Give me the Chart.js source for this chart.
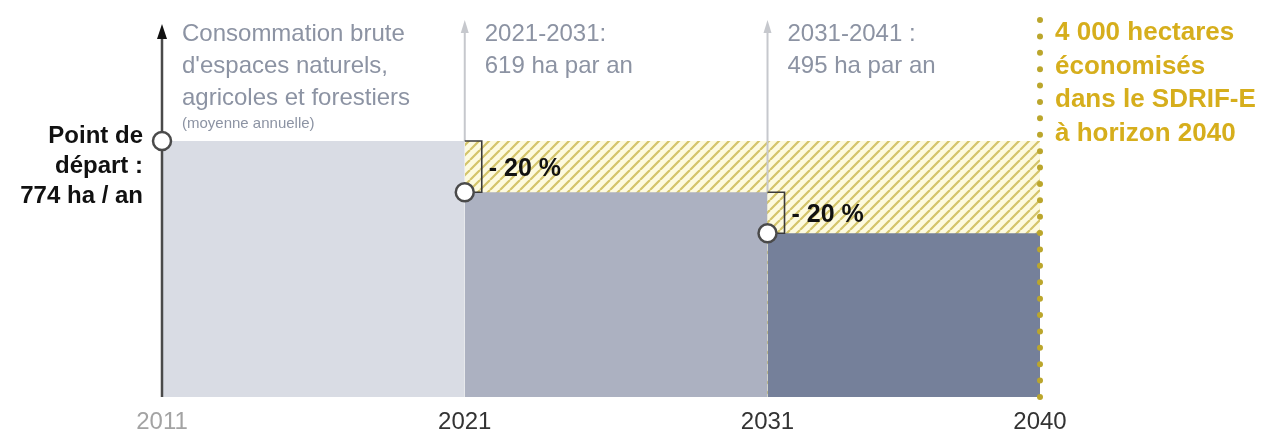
<!DOCTYPE html>
<html>
	<head>
		<meta charset="utf-8">
		<title>SDRIF-E consommation</title>
		<script src="https://cdn.jsdelivr.net/npm/chart.js"></script>
		<style>
			html, body {
				margin: 0;
				padding: 0;
				background: #fff;
			}

			#wrap {
				width: 1272px;
				height: 439px;
			}
		</style>
	</head>
	<body>
		<div id="wrap">
			<canvas id="chart" width="1272" height="439"></canvas>
		</div>
		<script>
			// années de la frise et consommation moyenne (ha / an) par période
			const years = [2011, 2021, 2031, 2040];
			const levels = [774, 619, 495];
			const reductions = ['- 20 %', '- 20 %'];

			// textes
			const startNote = ['Point de', 'départ :', '774 ha / an'];
			const periodNotes = [
				['Consommation brute', "d'espaces naturels,", 'agricoles et forestiers'],
				['2021-2031:', '619 ha par an'],
				['2031-2041 :', '495 ha par an']
			];
			const subNote = '(moyenne annuelle)';
			const savedNote = ['4 000 hectares', 'économisés', 'dans le SDRIF-E', 'à horizon 2040'];

			const barColors = ['#d9dce4', '#acb1c1', '#75809a'];
			const FONT = "'Liberation Sans', Arial, sans-serif";

			// motif hachuré jaune
			function makeHatch() {
				const s = 10;
				const c = document.createElement('canvas');
				c.width = s;
				c.height = s;
				const g = c.getContext('2d');
				g.fillStyle = '#fdfadf';
				g.fillRect(0, 0, s, s);
				g.strokeStyle = '#d4c46a';
				g.lineWidth = 2.2;
				g.beginPath();
				for (const k of [-s, 0, s]) {
					g.moveTo(k, s);
					g.lineTo(k + s, 0);
				}
				g.stroke();
				return g.createPattern(c, 'repeat');
			}

			function arrow(ctx, x, yTop, yBottom, lineColor, headColor, lw, hw, hh) {
				ctx.strokeStyle = lineColor;
				ctx.lineWidth = lw;
				ctx.beginPath();
				ctx.moveTo(x, yBottom);
				ctx.lineTo(x, yTop + hh - 2);
				ctx.stroke();
				ctx.fillStyle = headColor;
				ctx.beginPath();
				ctx.moveTo(x, yTop);
				ctx.lineTo(x - hw / 2, yTop + hh);
				ctx.lineTo(x + hw / 2, yTop + hh);
				ctx.closePath();
				ctx.fill();
			}

			// flèches, crochets et pointillés : dessinés sous les cercles
			const guides = {
				id: 'guides',
				afterDatasetDraw(chart, args) {
					if (args.index !== 1) return;
					const ctx = chart.ctx;
					const xs = chart.scales.x;
					const ys = chart.scales.y;
					const area = chart.chartArea;
					ctx.save();

					arrow(ctx, xs.getPixelForValue(years[0]), 24, area.bottom, '#4a4a4a', '#111', 2.5, 10, 15);
					arrow(ctx, xs.getPixelForValue(years[1]), 20, ys.getPixelForValue(levels[0]), '#c6c8cd', '#c6c8cd', 2, 8, 13);
					arrow(ctx, xs.getPixelForValue(years[2]), 20, ys.getPixelForValue(levels[1]), '#c6c8cd', '#c6c8cd', 2, 8, 13);

					// crochets "- 20 %"
					ctx.strokeStyle = '#3a3a3a';
					ctx.lineWidth = 1.6;
					for (let i = 0; i < 2; i++) {
						const x = xs.getPixelForValue(years[i + 1]);
						const y1 = ys.getPixelForValue(levels[i]);
						const y2 = ys.getPixelForValue(levels[i + 1]);
						ctx.beginPath();
						ctx.moveTo(x, y1);
						ctx.lineTo(x + 17, y1);
						ctx.lineTo(x + 17, y2);
						ctx.lineTo(x + 8, y2);
						ctx.stroke();
					}

					// pointillés jaunes à 2040
					const xe = xs.getPixelForValue(years[3]);
					ctx.fillStyle = '#bba62c';
					const n = 24;
					for (let i = 0; i < n; i++) {
						const y = area.top + (area.bottom - area.top) * i / (n - 1);
						ctx.beginPath();
						ctx.arc(xe, y, 3, 0, Math.PI * 2);
						ctx.fill();
					}
					ctx.restore();
				},
				afterDraw(chart) {
					const ctx = chart.ctx;
					const xs = chart.scales.x;
					const ys = chart.scales.y;
					const area = chart.chartArea;
					ctx.save();

					// point de départ
					ctx.fillStyle = '#111';
					ctx.font = 'bold 24px ' + FONT;
					ctx.textAlign = 'right';
					ctx.textBaseline = 'alphabetic';
					startNote.forEach((t, j) => ctx.fillText(t, area.left - 19, 143 + 30 * j));

					// périodes
					ctx.textAlign = 'left';
					ctx.fillStyle = '#8c93a3';
					ctx.font = '24px ' + FONT;
					periodNotes.forEach((lines, i) => {
						const x = xs.getPixelForValue(years[i]) + 20;
						lines.forEach((t, j) => ctx.fillText(t, x, 41 + 32 * j));
					});
					ctx.font = '15px ' + FONT;
					ctx.fillText(subNote, xs.getPixelForValue(years[0]) + 20, 128);

					// - 20 %
					ctx.fillStyle = '#111';
					ctx.font = 'bold 25px ' + FONT;
					reductions.forEach((t, i) => {
						const x = xs.getPixelForValue(years[i + 1]) + 24;
						const y = (ys.getPixelForValue(levels[i]) + ys.getPixelForValue(levels[i + 1])) / 2 + 9;
						ctx.fillText(t, x, y);
					});

					// hectares économisés
					ctx.fillStyle = '#d6ae1c';
					ctx.font = 'bold 26px ' + FONT;
					const xr = xs.getPixelForValue(years[3]) + 15;
					savedNote.forEach((t, j) => ctx.fillText(t, xr, 40 + 33.7 * j));
					ctx.restore();
				}
			};

			const datasets = [];
			// cercles (dessinés en dernier)
			datasets.push({
				data: levels.map((v, i) => ({x: years[i], y: v})),
				showLine: false,
				clip: false,
				pointRadius: 9,
				pointBackgroundColor: '#fff',
				pointBorderColor: '#4a4a4a',
				pointBorderWidth: 2.5
			});
			// une surface par période
			levels.forEach((v, i) => {
				datasets.push({
					data: [{x: years[i], y: v}, {x: years[i + 1], y: v}],
					fill: 'origin',
					backgroundColor: barColors[i],
					borderColor: 'transparent',
					borderWidth: 0,
					pointRadius: 0
				});
			});
			// surface économisée (hachures), sous les périodes
			datasets.push({
				data: [{x: years[1], y: levels[0]}, {x: years[3], y: levels[0]}],
				fill: 'origin',
				backgroundColor: makeHatch(),
				borderColor: 'transparent',
				borderWidth: 0,
				pointRadius: 0
			});

			new Chart(document.getElementById('chart'), {
				type: 'line',
				data: {datasets: datasets},
				options: {
					responsive: false,
					animation: false,
					layout: {
						padding: {left: 162, right: 232, top: 20, bottom: 0}
					},
					plugins: {
						legend: {display: false},
						tooltip: {enabled: false}
					},
					scales: {
						x: {
							type: 'linear',
							min: years[0],
							max: years[3],
							grid: {display: false},
							border: {display: false},
							afterBuildTicks: (scale) => {
								scale.ticks = years.map(v => ({value: v}));
							},
							afterFit: (scale) => {
								scale.height = 42;
							},
							ticks: {
								padding: 3,
								maxRotation: 0,
								autoSkip: false,
								callback: (v) => String(v),
								color: (c) => c.index === 0 ? '#a3a3a3' : '#333',
								font: {family: FONT, size: 24}
							}
						},
						y: {
							display: false,
							min: 0,
							max: 1140
						}
					}
				},
				plugins: [guides]
			});
		</script>
	</body>
</html>
